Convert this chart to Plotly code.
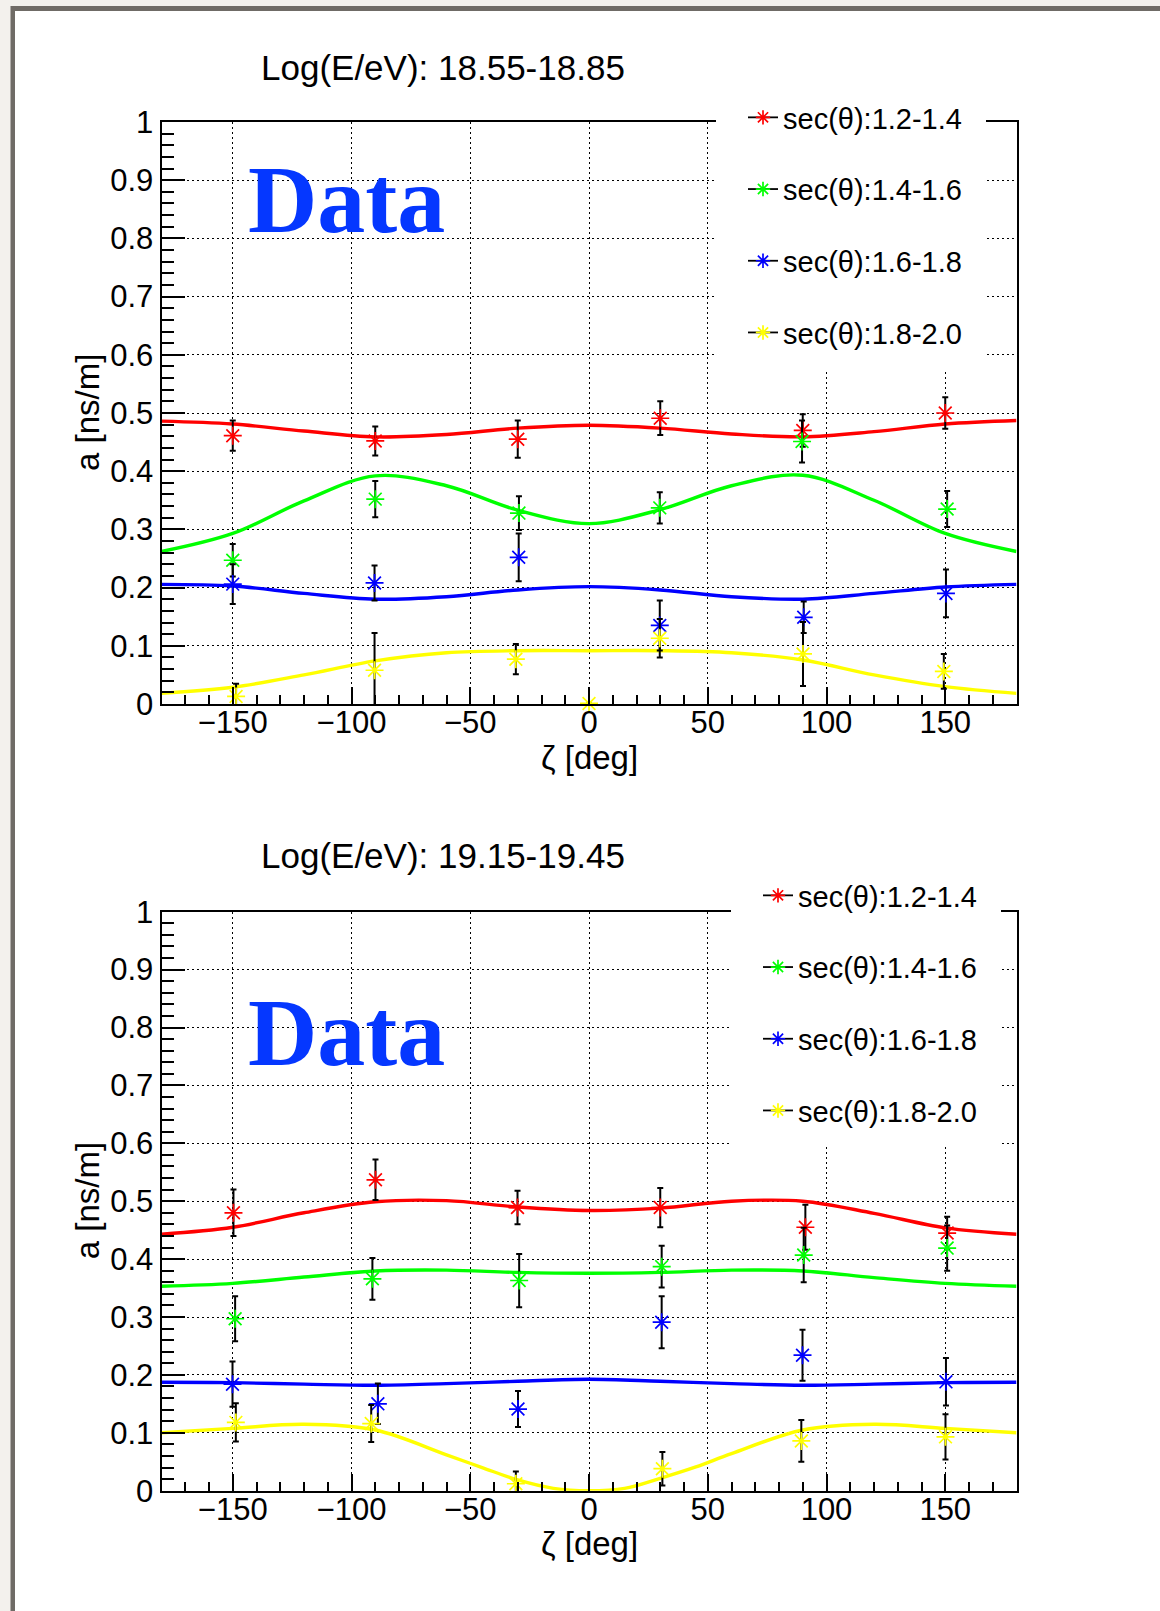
import plotly.graph_objects as go

# ---------------- data ----------------
SERIES = ["sec(θ):1.2-1.4", "sec(θ):1.4-1.6", "sec(θ):1.6-1.8", "sec(θ):1.8-2.0"]
COLORS = ["#ff0000", "#00ff00", "#0000ff", "#ffff00"]
PANEL_TITLES = ["Log(E/eV): 18.55-18.85", "Log(E/eV): 19.15-19.45"]
X_TITLE = "ζ [deg]"
Y_TITLE = "a [ns/m]"
LABEL_TEXT = "Data"

X_TICKS = [-150, -100, -50, 0, 50, 100, 150]
X_TICK_LABELS = ["\u2212150", "\u2212100", "\u221250", "0", "50", "100", "150"]
Y_TICKS = [0, 0.1, 0.2, 0.3, 0.4, 0.5, 0.6, 0.7, 0.8, 0.9, 1.0]
Y_TICK_LABELS = ["0", "0.1", "0.2", "0.3", "0.4", "0.5", "0.6", "0.7", "0.8", "0.9", "1"]

# ----- panel 1 : Log(E/eV) 18.55-18.85 : measured points -----
p1_red_x = [-150, -90, -30, 30, 90, 150]
p1_red_y = [0.461, 0.452, 0.455, 0.491, 0.470, 0.500]
p1_red_e = [0.026, 0.025, 0.032, 0.029, 0.028, 0.027]

p1_green_x = [-150, -90, -29.5, 29.8, 89.7, 150.8]
p1_green_y = [0.247, 0.352, 0.328, 0.337, 0.451, 0.335]
p1_green_e = [0.028, 0.031, 0.029, 0.027, 0.036, 0.031]

p1_blue_x = [-150, -90.3, -29.6, 29.8, 90.4, 150.3]
p1_blue_y = [0.206, 0.208, 0.252, 0.135, 0.149, 0.190]
p1_blue_e = [0.034, 0.030, 0.041, 0.043, 0.027, 0.041]

p1_yellow_x = [-148.6, -90.3, -30.8, 0, 29.8, 90.1, 149.4]
p1_yellow_y = [0.013, 0.058, 0.077, 0.001, 0.113, 0.086, 0.056]
p1_yellow_e = [0.022, 0.064, 0.026, 0.0, 0.033, 0.055, 0.030]

# ----- panel 1 : fitted curves -----
p1_fit_x = [-180, -150, -120, -90, -60, -30, 0, 30, 60, 90, 120, 150, 180]
p1_fit_red = [0.486, 0.481, 0.469, 0.459, 0.463, 0.474, 0.479, 0.474, 0.464, 0.459, 0.468, 0.481, 0.487]
p1_fit_green = [0.262, 0.293, 0.349, 0.392, 0.375, 0.333, 0.310, 0.334, 0.375, 0.393, 0.350, 0.293, 0.262]
p1_fit_blue = [0.2056, 0.2027, 0.190, 0.180, 0.1844, 0.196, 0.2016, 0.196, 0.1844, 0.180, 0.190, 0.2010, 0.2056]
p1_fit_yellow = [0.0183, 0.0287, 0.050, 0.074, 0.088, 0.0916, 0.0916, 0.0916, 0.088, 0.0756, 0.050, 0.0298, 0.0183]

# ----- panel 2 : Log(E/eV) 19.15-19.45 : measured points -----
p2_red_x = [-149.7, -89.9, -30.1, 30.0, 91.1, 150.8]
p2_red_y = [0.480, 0.537, 0.489, 0.489, 0.455, 0.445]
p2_red_e = [0.040, 0.035, 0.029, 0.034, 0.039, 0.028]

p2_green_x = [-149.0, -91.2, -29.4, 30.6, 90.4, 150.8]
p2_green_y = [0.297, 0.366, 0.363, 0.387, 0.407, 0.419]
p2_green_e = [0.039, 0.036, 0.046, 0.036, 0.047, 0.039]

p2_blue_x = [-150.1, -88.9, -29.9, 30.6, 89.9, 150.3]
p2_blue_y = [0.184, 0.150, 0.141, 0.291, 0.234, 0.188]
p2_blue_e = [0.039, 0.035, 0.031, 0.045, 0.044, 0.041]

p2_yellow_x = [-148.7, -91.7, -30.8, 30.9, 89.4, 150.1]
p2_yellow_y = [0.118, 0.116, 0.012, 0.038, 0.086, 0.093]
p2_yellow_e = [0.033, 0.032, 0.021, 0.029, 0.036, 0.039]

# ----- panel 2 : fitted curves -----
p2_fit_x = [-180, -150, -120, -90, -60, -30, 0, 30, 60, 90, 120, 150, 180]
p2_fit_red = [0.443, 0.455, 0.480, 0.499, 0.501, 0.490, 0.484, 0.488, 0.500, 0.500, 0.479, 0.454, 0.443]
p2_fit_green = [0.353, 0.358, 0.369, 0.3795, 0.381, 0.377, 0.3755, 0.377, 0.381, 0.3795, 0.368, 0.358, 0.353]
p2_fit_blue = [0.1872, 0.1866, 0.184, 0.182, 0.185, 0.189, 0.1924, 0.189, 0.185, 0.182, 0.184, 0.1866, 0.1872]
p2_fit_yellow_x = [-180, -150, -120, -90, -60, -45, -30, -15, 0, 15, 30, 45, 60, 90, 120, 150, 180]
p2_fit_yellow = [0.100, 0.1077, 0.1147, 0.1048, 0.062, 0.040, 0.0185, 0.004, 0.0, 0.004, 0.0214, 0.041, 0.064, 0.1048, 0.1147, 0.1077, 0.100]

PANELS = [
    dict(title=PANEL_TITLES[0],
         pts=[(p1_red_x, p1_red_y, p1_red_e), (p1_green_x, p1_green_y, p1_green_e),
              (p1_blue_x, p1_blue_y, p1_blue_e), (p1_yellow_x, p1_yellow_y, p1_yellow_e)],
         fits=[(p1_fit_x, p1_fit_red), (p1_fit_x, p1_fit_green),
               (p1_fit_x, p1_fit_blue), (p1_fit_x, p1_fit_yellow)]),
    dict(title=PANEL_TITLES[1],
         pts=[(p2_red_x, p2_red_y, p2_red_e), (p2_green_x, p2_green_y, p2_green_e),
              (p2_blue_x, p2_blue_y, p2_blue_e), (p2_yellow_x, p2_yellow_y, p2_yellow_e)],
         fits=[(p2_fit_x, p2_fit_red), (p2_fit_x, p2_fit_green),
               (p2_fit_x, p2_fit_blue), (p2_fit_yellow_x, p2_fit_yellow)]),
]

# ---------------- layout geometry (pixels) ----------------
W, H = 1160, 1611
XL, XR = 161.5, 1016.5
PANEL_PX = [(122.0, 704.0), (911.7, 1490.7)]   # (top, bottom) of plot areas
TITLE_Y = [67, 855]
DATA_Y = [200, 1032]
LEGEND_TOP = [92, 870]
LEGEND_LEFT = [743, 758]
LEGEND_BOX = [(716, 986, 88, 369), (731, 1001, 867, 1146)]   # x0, x1, y0, y1
FONT = "Liberation Sans, Arial, Helvetica, sans-serif"

def px(x):
    return x / W

def py(y):
    return 1 - y / H

fig = go.Figure()

for i, P in enumerate(PANELS):
    xa = "x" if i == 0 else "x2"
    ya = "y" if i == 0 else "y2"
    leg = "legend" if i == 0 else "legend2"
    # fitted curves
    for k, (fx, fy) in enumerate(P["fits"]):
        fig.add_trace(go.Scatter(x=fx, y=fy, mode="lines", xaxis=xa, yaxis=ya,
                                 line=dict(color=COLORS[k], width=3.4, shape="spline", smoothing=1.0),
                                 showlegend=False, hoverinfo="skip"))
    # data points with error bars
    for k, (dx, dy, de) in enumerate(P["pts"]):
        fig.add_trace(go.Scatter(x=dx, y=dy, mode="markers", xaxis=xa, yaxis=ya,
                                 marker=dict(symbol="asterisk-open", size=15, color=COLORS[k],
                                             line=dict(color=COLORS[k], width=1.7)),
                                 error_y=dict(type="data", array=de, color="black",
                                              thickness=2, width=3),
                                 cliponaxis=False, showlegend=False, name=SERIES[k]))
    # legend entries
    for k in range(4):
        fig.add_trace(go.Scatter(x=[None], y=[None], mode="lines+markers", xaxis=xa, yaxis=ya,
                                 name=SERIES[k], legend=leg, legendgroup=f"{leg}{k}",
                                 line=dict(color="black", width=1.8),
                                 marker=dict(symbol="asterisk-open", size=12, color=COLORS[k],
                                             line=dict(color=COLORS[k], width=1.7))))

axis_common = dict(showline=True, linecolor="black", linewidth=2, mirror=True,
                   showgrid=True, gridcolor="black", gridwidth=1.4, griddash="2px,3px",
                   zeroline=False, ticks="inside", tickcolor="black", tickwidth=2,
                   automargin=False,
                   tickfont=dict(family=FONT, size=31, color="black"))

for i, (top, bot) in enumerate(PANEL_PX):
    sx = "" if i == 0 else "2"
    fig.update_layout(**{
        f"xaxis{sx}": dict(axis_common, domain=[px(XL), px(XR)], range=[-180, 180],
                           anchor=f"y{sx}", tickmode="array", tickvals=X_TICKS,
                           ticktext=X_TICK_LABELS, ticklen=17, ticklabelstandoff=-10,
                           minor=dict(ticks="inside", dtick=10, tick0=0, ticklen=9,
                                      tickwidth=1.5, tickcolor="black", showgrid=False)),
        f"yaxis{sx}": dict(axis_common, domain=[py(bot), py(top)], range=[0, 1],
                           anchor=f"x{sx}", tickmode="array", tickvals=Y_TICKS,
                           ticktext=Y_TICK_LABELS, ticklen=23,
                           minor=dict(ticks="inside", dtick=0.02, tick0=0, ticklen=12,
                                      tickwidth=1.5, tickcolor="black", showgrid=False)),
    })

annotations = []
for i, (top, bot) in enumerate(PANEL_PX):
    annotations.append(dict(text=PANELS[i]["title"], x=px(443), y=py(TITLE_Y[i]), xref="paper",
                            yref="paper", showarrow=False, xanchor="center", yanchor="middle",
                            font=dict(family=FONT, size=35, color="black")))
    annotations.append(dict(text=X_TITLE, x=px(589), y=py(bot + 53), xref="paper", yref="paper",
                            showarrow=False, xanchor="center", yanchor="middle",
                            font=dict(family=FONT, size=33, color="black")))
    annotations.append(dict(text=Y_TITLE, x=px(87), y=py((top + bot) / 2), xref="paper",
                            yref="paper", showarrow=False, xanchor="center", yanchor="middle",
                            textangle=-90, font=dict(family=FONT, size=33, color="black")))
    annotations.append(dict(text=f"<b>{LABEL_TEXT}</b>", x=px(346), y=py(DATA_Y[i]), xref="paper",
                            yref="paper", showarrow=False, xanchor="center", yanchor="middle",
                            font=dict(family="Liberation Serif, Times New Roman, serif", size=96,
                                      color="#0537ff")))

shapes = [
    dict(type="rect", xref="paper", yref="paper", x0=px(10.5), x1=1.01, y0=-0.01, y1=py(6),
         fillcolor="#6f6b66", line=dict(width=0), layer="below"),
    dict(type="rect", xref="paper", yref="paper", x0=px(15), x1=1.01, y0=-0.01, y1=py(11),
         fillcolor="white", line=dict(width=0), layer="below"),
]
for (bx0, bx1, by0, by1) in LEGEND_BOX:
    shapes.append(dict(type="rect", xref="paper", yref="paper", x0=px(bx0), x1=px(bx1),
                       y0=py(by1), y1=py(by0), fillcolor="white", line=dict(width=0),
                       layer="above"))

legend_common = dict(bgcolor="white", borderwidth=0, font=dict(family=FONT, size=29, color="black"),
                     xanchor="left", yanchor="top", tracegroupgap=31, itemwidth=30,
                     traceorder="grouped")

fig.update_layout(
    width=W, height=H, margin=dict(l=0, r=0, t=0, b=0, autoexpand=False),
    paper_bgcolor="#f3f1ed", plot_bgcolor="rgba(0,0,0,0)",
    showlegend=True,
    legend=dict(legend_common, x=px(LEGEND_LEFT[0]), y=py(LEGEND_TOP[0])),
    legend2=dict(legend_common, x=px(LEGEND_LEFT[1]), y=py(LEGEND_TOP[1])),
    annotations=annotations, shapes=shapes,
)

fig.write_html("out.html")
